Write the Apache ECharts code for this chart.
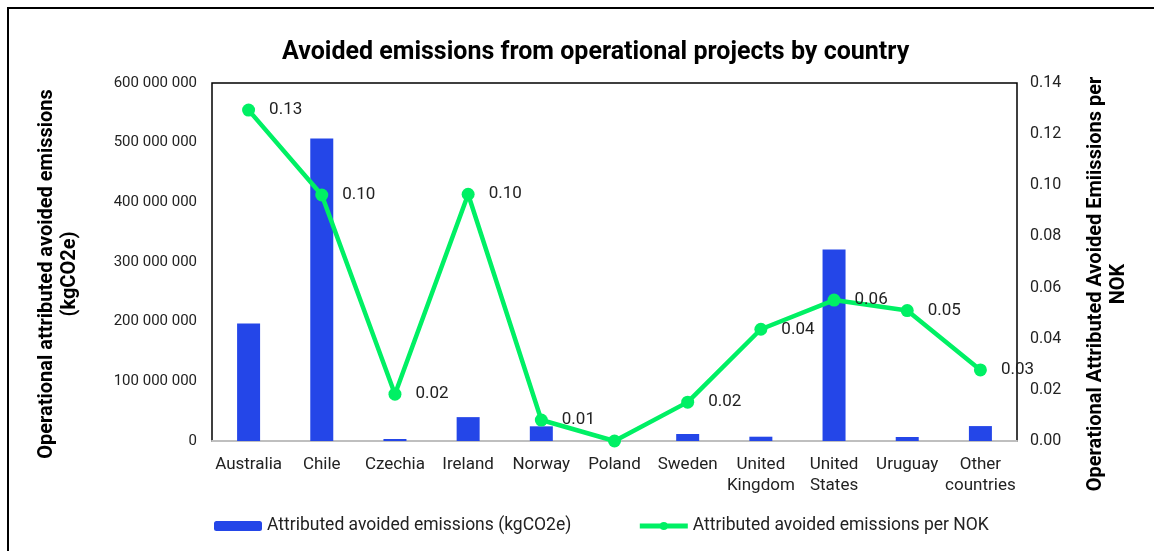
<!DOCTYPE html>
<html>
<head>
<meta charset="utf-8">
<script src="https://cdn.jsdelivr.net/npm/echarts@6/dist/echarts.min.js"></script>
<style>
  html, body { margin: 0; padding: 0; background: #fff; overflow: hidden; }
  #chart { position: absolute; left: 0; top: 0; width: 1154px; height: 551px; }
  .frame { position: absolute; left: 7px; top: 7px; width: 1300px; height: 700px;
           border: 2px solid #000; pointer-events: none; }
</style>
</head>
<body>
<div class="frame"></div>
<div id="chart"></div>
<script>
  const countries = ['Australia', 'Chile', 'Czechia', 'Ireland', 'Norway', 'Poland',
    'Sweden', 'United\nKingdom', 'United\nStates', 'Uruguay', 'Other\ncountries'];
  // kgCO2e
  const avoidedEmissions = [197000000, 507000000, 3400000, 40000000, 24600000, 0,
    11700000, 7200000, 321000000, 6700000, 25000000];
  // per NOK
  const emissionsPerNok = [0.1294, 0.0962, 0.0183, 0.0965, 0.0082, 0,
    0.0152, 0.0437, 0.0551, 0.051, 0.0278];

  const font = 'Roboto';
  const spaced = v => String(v).replace(/\B(?=(\d{3})+(?!\d))/g, ' ');

  const chart = echarts.init(document.getElementById('chart'));
  chart.setOption({
    animation: false,
    textStyle: { fontFamily: font },
    title: {
      text: 'Avoided emissions from operational projects by country',
      left: 277,
      top: 35,
      textStyle: { fontFamily: font, fontSize: 25, fontWeight: 'bold', color: '#000' }
    },
    legend: {
      bottom: 11,
      left: 209,
      itemGap: 66,
      itemWidth: 48,
      itemHeight: 10,
      textStyle: { fontFamily: font, fontSize: 17.5, color: '#222' },
      data: [
        'Attributed avoided emissions (kgCO2e)',
        { name: 'Attributed avoided emissions per NOK', lineStyle: { width: 5 } }
      ]
    },
    grid: {
      left: 212, right: 137, top: 83, bottom: 110,
      outerBoundsMode: 'none',
      show: true,
      borderColor: '#000',
      borderWidth: 1.5,
      backgroundColor: 'transparent'
    },
    xAxis: {
      type: 'category',
      data: countries,
      axisLine: { lineStyle: { color: '#bfbfbf', width: 2 } },
      axisTick: { show: false },
      axisLabel: { fontFamily: font, fontSize: 17, color: '#222', lineHeight: 21, margin: 13, interval: 0 }
    },
    yAxis: [
      {
        type: 'value',
        min: 0, max: 600000000, interval: 100000000,
        name: 'Operational attributed avoided emissions\n(kgCO2e)',
        nameLocation: 'middle',
        nameRotate: 90,
        nameGap: 131,
        nameTextStyle: { fontFamily: font, fontSize: 20, fontWeight: 'bold', color: '#000',
          lineHeight: 23, padding: [0, 24, 0, 0] },
        axisLine: { show: false },
        axisTick: { show: false },
        splitLine: { show: false },
        axisLabel: { fontFamily: font, fontSize: 15, color: '#222', margin: 15, formatter: spaced }
      },
      {
        type: 'value',
        position: 'right',
        min: 0, max: 0.14, interval: 0.02,
        name: 'Operational Attributed Avoided Emiissions per\nNOK',
        nameLocation: 'middle',
        nameRotate: 90,
        nameGap: 67,
        nameTextStyle: { fontFamily: font, fontSize: 20, fontWeight: 'bold', color: '#000',
          lineHeight: 23, padding: [0, 44, 0, 0] },
        axisLine: { show: false },
        axisTick: { show: false },
        splitLine: { show: false },
        axisLabel: { fontFamily: font, fontSize: 16, color: '#222', margin: 13,
          formatter: v => v.toFixed(2) }
      }
    ],
    series: [
      {
        name: 'Attributed avoided emissions (kgCO2e)',
        type: 'bar',
        yAxisIndex: 0,
        barWidth: 23,
        itemStyle: { color: '#2446E8' },
        data: avoidedEmissions
      },
      {
        name: 'Attributed avoided emissions per NOK',
        type: 'line',
        yAxisIndex: 1,
        symbol: 'circle',
        symbolSize: 13,
        lineStyle: { color: '#00F064', width: 4.5 },
        itemStyle: { color: '#00F064' },
        label: {
          show: true,
          position: 'right',
          distance: 14,
          fontFamily: font,
          fontSize: 17,
          color: '#222',
          formatter: p => (p.value ? p.value.toFixed(2) : '')
        },
        data: emissionsPerNok
      }
    ]
  });
</script>
</body>
</html>
